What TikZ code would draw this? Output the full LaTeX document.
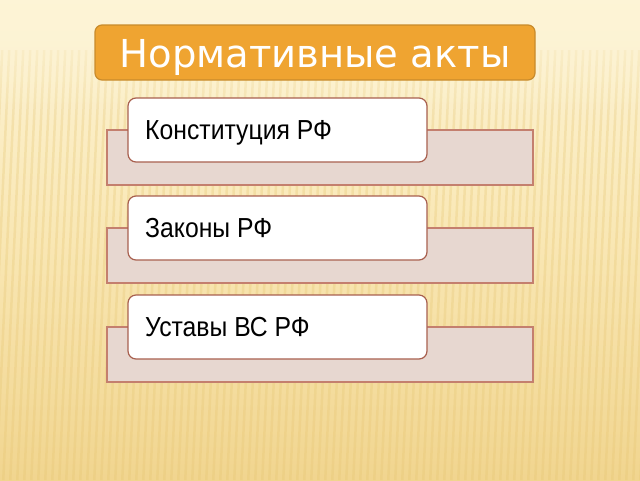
\documentclass[tikz,border=0pt]{standalone}
\usepackage{fontspec}
\setmainfont{Liberation Sans}
\newfontfamily\itemfont[FakeStretch=0.9]{Liberation Sans}
\newfontfamily\titlefont{DejaVu Sans}
\usetikzlibrary{fadings}
\definecolor{bgtop}{HTML}{FDF4D6}
\definecolor{bgmid}{HTML}{F9E7B4}
\definecolor{bgbot}{HTML}{F1D58F}
\definecolor{stripe}{HTML}{E6C571}
\definecolor{titlefill}{HTML}{EFA431}
\definecolor{titleline}{HTML}{C88B2C}
\definecolor{backfill}{HTML}{E7D7D0}
\definecolor{backline}{HTML}{C47F6E}
\definecolor{frontline}{HTML}{A8604F}
\tikzset{
  titlebox/.style={draw=titleline, line width=1.2pt, fill=titlefill, rounded corners=7pt},
  backbox/.style={draw=backline, line width=1.2pt, fill=backfill},
  frontbox/.style={draw=frontline, line width=1.2pt, fill=white, rounded corners=8pt},
  itemtext/.style={anchor=base west, inner sep=0pt, font=\itemfont\fontsize{27.5}{30}\selectfont, text=black},
}
\begin{document}
\begin{tikzpicture}[x=1pt,y=-1pt]
\useasboundingbox (0,0) rectangle (640,480);
% background
\shade[top color=bgtop, bottom color=bgbot, middle color=bgmid] (0,0) rectangle (640,480);
\begin{scope}
\clip (0,0) rectangle (640,480);
\foreach \i in {-40,-33,...,660} {
  \fill[stripe, opacity=0.3] (\i,480) -- ++(2.5,0) -- ++(20,-430) -- ++(-2.5,0) -- cycle;
}
\end{scope}
\fill[bgtop, path fading=south] (0,0) rectangle (640,120);
% title
\draw[titlebox] (95,25) rectangle (535,80);
\node[text=white, font=\titlefont\fontsize{38.5}{40}\selectfont, inner sep=0pt, anchor=base] (title) at (315,67) {Нормативные акты};
% items
\foreach \y/\t/\n in {98/Конституция РФ/a, 196/Законы РФ/b, 295/Уставы ВС РФ/c} {
  \draw[backbox] (107,\y+32) rectangle (533,\y+87);
  \draw[frontbox] (128,\y) rectangle (427,\y+64);
  \node[itemtext] (\n) at (145,\y+41.5) {\t};
}
\end{tikzpicture}
\end{document}
